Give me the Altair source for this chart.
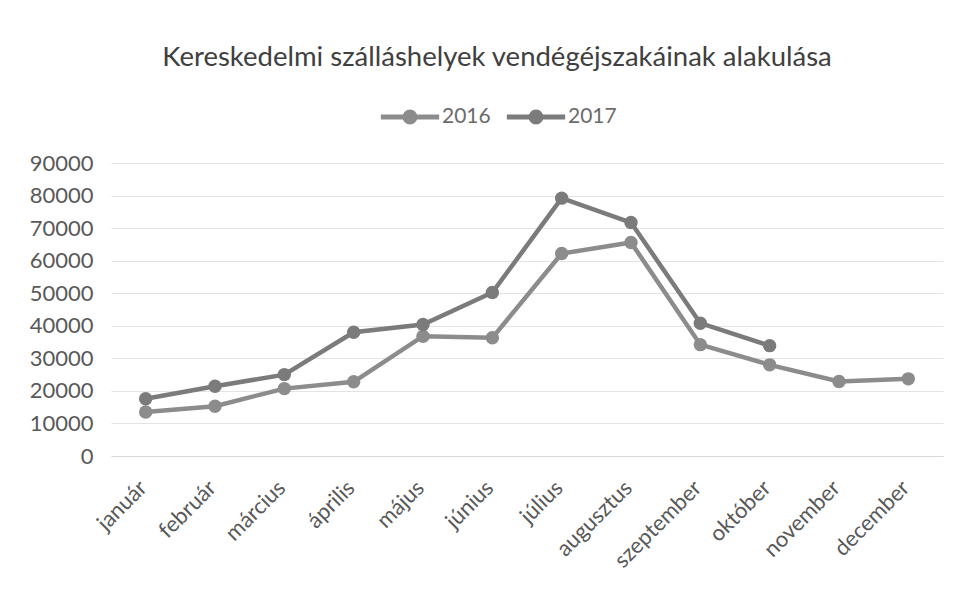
import altair as alt
import pandas as pd

months = ["január", "február", "március", "április", "május", "június",
          "július", "augusztus", "szeptember", "október", "november", "december"]
v2016 = [13500, 15300, 20700, 22800, 36800, 36300, 62200, 65600, 34200, 28000, 22900, 23700]
v2017 = [17600, 21400, 25000, 38000, 40400, 50200, 79200, 71700, 40800, 33900, None, None]
years = ["2016", "2017"]
colors = ["#8c8c8c", "#7b7b7b"]
y_ticks = [0, 10000, 20000, 30000, 40000, 50000, 60000, 70000, 80000, 90000]
title_text = "Kereskedelmi szálláshelyek vendégéjszakáinak alakulása"

rows = []
for m, a, b in zip(months, v2016, v2017):
    rows.append({"honap": m, "ev": "2016", "ertek": a})
    if b is not None:
        rows.append({"honap": m, "ev": "2017", "ertek": b})
df = pd.DataFrame(rows)

FONT = "Lato"
sym = "M-1,0H1M0.17,0A0.17,0.17,0,1,1,-0.17,0A0.17,0.17,0,1,1,0.17,0Z"

chart = alt.Chart(df).mark_line(
    strokeWidth=4.5,
    point=alt.OverlayMarkDef(filled=True, size=180),
).encode(
    x=alt.X("honap:N", sort=months, scale=alt.Scale(padding=0.5),
            axis=alt.Axis(title=None, labelAngle=-45, labelAlign="right", labelBaseline="middle",
                          labelFontSize=22, labelFont=FONT, labelColor="#595959",
                          labelPadding=28, labelOffset=-3, ticks=False, domain=True,
                          domainColor="#d9d9d9", grid=False)),
    y=alt.Y("ertek:Q", scale=alt.Scale(domain=[0, 90000]),
            axis=alt.Axis(title=None, values=y_ticks, format="d", domain=False, ticks=False,
                          labelFontSize=22, labelFont=FONT, labelColor="#595959",
                          labelPadding=18, gridColor="#e3e3e3")),
    color=alt.Color("ev:N", scale=alt.Scale(domain=years, range=colors),
                    legend=alt.Legend(title=None, orient="none", legendX=267, legendY=-78,
                                      direction="horizontal", symbolType=sym, symbolSize=3400,
                                      symbolStrokeWidth=5, labelFontSize=21, labelFont=FONT,
                                      labelOffset=0, columnPadding=5, labelColor="#6b6b6b")),
).properties(
    width=832,
    height=293,
    autosize="none",
    padding={"left": 103, "top": 155, "right": 9, "bottom": 120},
    title=alt.TitleParams(title_text, fontSize=27.5, font=FONT, fontWeight="normal",
                          color="#404040", anchor="middle", dx=-30, dy=22, offset=14,
                          baseline="alphabetic"),
    background="white",
).configure_view(stroke=None)

chart.save("out.html", embed_options={"renderer": "svg", "actions": False})
